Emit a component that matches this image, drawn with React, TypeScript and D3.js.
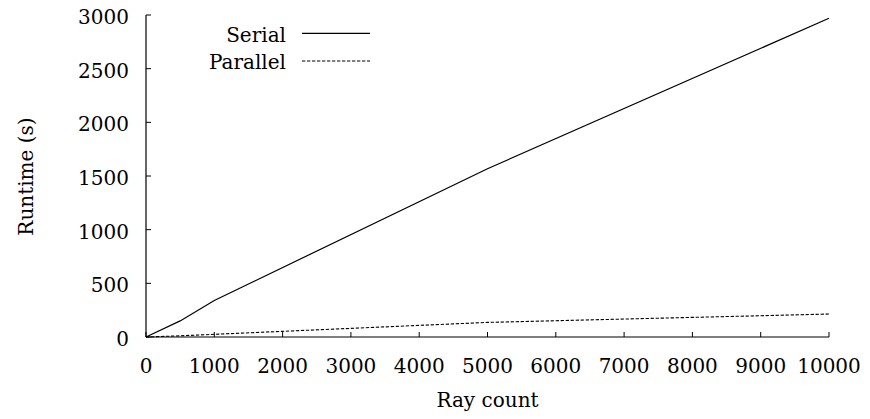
import React from "react";
import * as d3 from "d3";

const rayCounts = [0, 500, 1000, 5000, 10000];
const serialRuntime = [0, 150, 340, 1568, 2970];
const parallelRuntime = [0, 11, 25, 136, 214];
const xTicks = [0, 1000, 2000, 3000, 4000, 5000, 6000, 7000, 8000, 9000, 10000];
const yTicks = [0, 500, 1000, 1500, 2000, 2500, 3000];
const seriesNames = ["Serial", "Parallel"];

const W = 870;
const H = 419;
const FONT = "DejaVu Serif";
const FS = 20;

export default function App() {
  const x = d3.scaleLinear().domain([0, 10000]).range([146, 829]);
  const y = d3.scaleLinear().domain([0, 3000]).range([337, 15]);
  const line = d3
    .line<number>()
    .x((_, i) => x(rayCounts[i]))
    .y((d) => y(d));
  const tick = 5;
  const tp = { fontFamily: FONT, fontSize: FS, fill: "#000" };
  return (
    <svg width={W} height={H} style={{ position: "absolute", left: 0, top: 0, background: "#fff" }}>
      {/* axes */}
      <line x1={x(0)} x2={x(0)} y1={y(3000)} y2={y(0)} stroke="#000" strokeWidth={1.2} />
      <line x1={x(0)} x2={x(10000)} y1={y(0)} y2={y(0)} stroke="#000" strokeWidth={1.2} />
      {xTicks.map((t) => (
        <g key={"x" + t}>
          <line x1={x(t)} x2={x(t)} y1={y(0)} y2={y(0) - tick} stroke="#000" strokeWidth={1} />
          <text x={x(t)} y={372.5} textAnchor="middle" style={tp}>
            {t}
          </text>
        </g>
      ))}
      {yTicks.map((t) => (
        <g key={"y" + t}>
          <line x1={x(0)} x2={x(0) + tick} y1={y(t)} y2={y(t)} stroke="#000" strokeWidth={1} />
          <text x={129} y={y(t) + 9} textAnchor="end" style={tp}>
            {t}
          </text>
        </g>
      ))}
      <text x={(x(0) + x(10000)) / 2} y={407} textAnchor="middle" style={tp}>
        Ray count
      </text>
      <text transform={`translate(33,176.5) rotate(-90)`} textAnchor="middle" style={tp}>
        Runtime (s)
      </text>
      {/* series */}
      <path d={line(serialRuntime) || ""} fill="none" stroke="#000" strokeWidth={1.2} />
      <path
        d={line(parallelRuntime) || ""}
        fill="none"
        stroke="#000"
        strokeWidth={1.1}
        strokeDasharray="3.3,1.7"
      />
      {/* legend */}
      <text x={286} y={41.5} textAnchor="end" style={tp}>
        {seriesNames[0]}
      </text>
      <line x1={302} x2={370} y1={33.3} y2={33.3} stroke="#000" strokeWidth={1.2} />
      <text x={286} y={68.5} textAnchor="end" style={tp}>
        {seriesNames[1]}
      </text>
      <line x1={302} x2={370} y1={61} y2={61} stroke="#000" strokeWidth={1.1} strokeDasharray="3.3,1.7" />
    </svg>
  );
}
